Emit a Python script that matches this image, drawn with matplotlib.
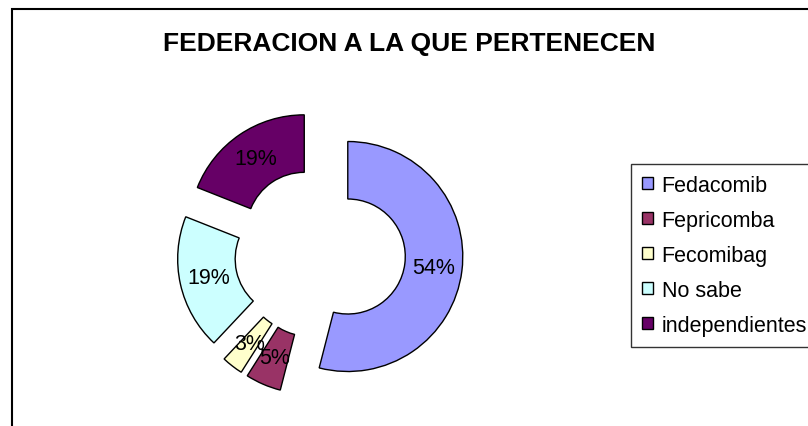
import matplotlib
matplotlib.use("Agg")
import matplotlib.pyplot as plt
from matplotlib.patches import Patch, Rectangle

plt.rcParams["font.family"] = ["Liberation Sans", "DejaVu Sans"]

# --- data ---------------------------------------------------------------------
labels = ["Fedacomib", "Fepricomba", "Fecomibag", "No sabe", "independientes"]
values = [54, 5, 3, 19, 19]
colors = ["#9999FF", "#993366", "#FFFFCC", "#CCFFFF", "#660066"]
title = "FEDERACION A LA QUE PERTENECEN"

W, H = 808, 427
fig = plt.figure(figsize=(W / 100, H / 100), dpi=100)
ax = fig.add_axes([0, 0, 1, 1])

# chart-area border (runs off the right and bottom edges)
ax.add_patch(Rectangle((12, -20), W + 20, H - 10 + 20, fill=False,
                       edgecolor="black", lw=1.5))

R = 115
ax.pie(values, colors=colors, radius=R, center=(320, H - 254),
       startangle=90, counterclock=False,
       explode=[28] * len(values),          # pie() takes the offset in data units
       autopct="%1.0f%%", pctdistance=0.75,
       wedgeprops=dict(width=0.5 * R, edgecolor="black", lw=1.0),
       textprops=dict(fontsize=15.5, color="black"),
       frame=True)
ax.set_xlim(0, W)
ax.set_ylim(0, H)
ax.set_aspect("equal")
ax.axis("off")

ax.text(409, H - 44, title, ha="center", va="center", fontsize=19,
        fontweight="bold")

handles = [Patch(facecolor=c, edgecolor="black", lw=1.0) for c in colors]
leg = fig.legend(handles, labels, loc="upper left",
                 bbox_to_anchor=(631 / W, 1 - 165 / H), borderaxespad=0,
                 fontsize=15.5, frameon=True, fancybox=False, shadow=False,
                 handlelength=0.5, handleheight=0.5, handletextpad=0.42,
                 labelspacing=0.65, borderpad=0.5)
leg.get_frame().set_edgecolor("black")
leg.get_frame().set_linewidth(1.0)

fig.savefig("out.png", dpi=100)
